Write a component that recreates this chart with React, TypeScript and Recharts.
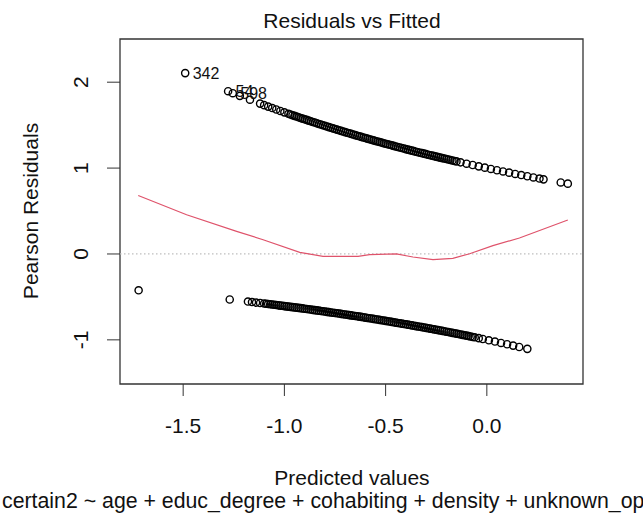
import {
  ReferenceArea,
  ReferenceLine,
  Scatter,
  ScatterChart,
  XAxis,
  YAxis,
} from "recharts";

const FONT = "'Liberation Sans', Arial, Helvetica, sans-serif";

const xTicks = [-1.5, -1, -0.5, 0];
const yTicks = [-1, 0, 1, 2];
const xDomain: [number, number] = [-1.812, 0.475];
const yDomain: [number, number] = [-1.514, 2.503];

// observations with the three largest residuals, labelled by row id
const idPoints = [
  { x: -1.49, y: 2.106, id: "342" },
  { x: -1.278, y: 1.895, id: "54" },
  { x: -1.255, y: 1.872, id: "598" },
];

// upper band (fitted, pearson residual)
const upperPts: [number, number][] = [
  [-1.22, 1.841], [-1.17, 1.796],
  [-1.12, 1.751], [-1.1, 1.733], [-1.08, 1.716], [-1.06, 1.699], [-1.04, 1.682],
  [-1.02, 1.665], [-1.0, 1.649], [-0.98, 1.632], [-0.96, 1.616], [-0.94, 1.6],
  [-0.92, 1.584], [-0.9, 1.568], [-0.88, 1.553], [-0.86, 1.537], [-0.84, 1.522],
  [-0.82, 1.507], [-0.8, 1.492], [-0.78, 1.477], [-0.76, 1.462], [-0.74, 1.448],
  [-0.72, 1.433], [-0.7, 1.419], [-0.68, 1.405], [-0.66, 1.391], [-0.64, 1.377],
  [-0.62, 1.363], [-0.6, 1.35], [-0.58, 1.336], [-0.56, 1.323], [-0.54, 1.31],
  [-0.52, 1.297], [-0.5, 1.284], [-0.48, 1.271], [-0.46, 1.259], [-0.44, 1.246],
  [-0.42, 1.234], [-0.4, 1.221], [-0.38, 1.209], [-0.36, 1.197], [-0.34, 1.185],
  [-0.32, 1.174], [-0.3, 1.162], [-0.28, 1.15], [-0.26, 1.139], [-0.24, 1.128],
  [-0.22, 1.116], [-0.2, 1.105], [-0.18, 1.094], [-0.16, 1.083],
  [-0.97, 1.624], [-0.95, 1.608], [-0.93, 1.592], [-0.91, 1.576], [-0.89, 1.561],
  [-0.87, 1.545],
  [-0.85, 1.53], [-0.83, 1.514], [-0.81, 1.499], [-0.79, 1.484], [-0.77, 1.47],
  [-0.75, 1.455], [-0.73, 1.44], [-0.71, 1.426], [-0.69, 1.412], [-0.67, 1.398],
  [-0.65, 1.384], [-0.63, 1.37], [-0.61, 1.356], [-0.59, 1.343], [-0.57, 1.33],
  [-0.55, 1.316], [-0.53, 1.303], [-0.51, 1.29], [-0.49, 1.278], [-0.47, 1.265],
  [-0.45, 1.252], [-0.43, 1.24], [-0.41, 1.228], [-0.39, 1.215], [-0.37, 1.203],
  [-0.35, 1.191], [-0.33, 1.179], [-0.31, 1.168], [-0.29, 1.156], [-0.27, 1.145],
  [-0.25, 1.133], [-0.23, 1.122], [-0.21, 1.111], [-0.19, 1.1], [-0.17, 1.089],
  [-0.15, 1.078],
  [-0.13, 1.067], [-0.1, 1.051], [-0.07, 1.036], [-0.04, 1.02], [-0.01, 1.005],
  [0.02, 0.99], [0.05, 0.975], [0.08, 0.961], [0.11, 0.947], [0.14, 0.932],
  [0.17, 0.919], [0.2, 0.905], [0.23, 0.891], [0.26, 0.878], [0.28, 0.869],
  [0.365, 0.833], [0.4, 0.819],
];

// lower band
const lowerPts: [number, number][] = [
  [-1.72, -0.423], [-1.27, -0.53],
  [-1.18, -0.554], [-1.16, -0.56], [-1.14, -0.566], [-1.12, -0.571], [-1.1, -0.577],
  [-1.08, -0.583], [-1.06, -0.589], [-1.04, -0.595], [-1.02, -0.601], [-1.0, -0.607],
  [-0.98, -0.613], [-0.96, -0.619], [-0.94, -0.625], [-0.92, -0.631], [-0.9, -0.638],
  [-0.88, -0.644], [-0.86, -0.651], [-0.84, -0.657], [-0.82, -0.664], [-0.8, -0.67],
  [-0.78, -0.677], [-0.76, -0.684], [-0.74, -0.691], [-0.72, -0.698], [-0.7, -0.705],
  [-0.68, -0.712], [-0.66, -0.719], [-0.64, -0.726], [-0.62, -0.733], [-0.6, -0.741],
  [-0.58, -0.748], [-0.56, -0.756], [-0.54, -0.763], [-0.52, -0.771], [-0.5, -0.779],
  [-0.48, -0.787], [-0.46, -0.795], [-0.44, -0.803], [-0.42, -0.811], [-0.4, -0.819],
  [-0.38, -0.827], [-0.36, -0.835], [-0.34, -0.844], [-0.32, -0.852], [-0.3, -0.861],
  [-0.28, -0.869], [-0.26, -0.878], [-0.24, -0.887], [-0.22, -0.896], [-0.2, -0.905],
  [-0.18, -0.914], [-0.16, -0.923], [-0.14, -0.932], [-0.12, -0.942], [-0.1, -0.951],
  [-0.08, -0.961], [-0.06, -0.97], [-0.04, -0.98],
  [-1.09, -0.58], [-1.07, -0.586], [-1.05, -0.592], [-1.03, -0.598], [-1.01, -0.603],
  [-0.99, -0.61], [-0.97, -0.616], [-0.95, -0.622], [-0.93, -0.628], [-0.91, -0.634],
  [-0.89, -0.641], [-0.87, -0.647], [-0.85, -0.654], [-0.83, -0.66], [-0.81, -0.667],
  [-0.79, -0.674], [-0.77, -0.681], [-0.75, -0.687], [-0.73, -0.694], [-0.71, -0.701],
  [-0.69, -0.708], [-0.67, -0.715], [-0.65, -0.723], [-0.63, -0.73], [-0.61, -0.737],
  [-0.59, -0.745], [-0.57, -0.752], [-0.55, -0.76], [-0.53, -0.767], [-0.51, -0.775],
  [-0.49, -0.783], [-0.47, -0.791], [-0.45, -0.799], [-0.43, -0.807], [-0.41, -0.815],
  [-0.39, -0.823], [-0.37, -0.831], [-0.35, -0.84], [-0.33, -0.848], [-0.31, -0.856],
  [-0.29, -0.865], [-0.27, -0.874], [-0.25, -0.883], [-0.23, -0.891], [-0.21, -0.9],
  [-0.19, -0.909], [-0.17, -0.919], [-0.15, -0.928], [-0.13, -0.937], [-0.11, -0.946],
  [-0.09, -0.956], [-0.07, -0.966],
  [-0.02, -0.99], [0.01, -1.005], [0.04, -1.02], [0.07, -1.036], [0.1, -1.051],
  [0.13, -1.067], [0.16, -1.083], [0.2, -1.105],
];

// lowess smooth (red)
const smoothX = [-1.722, -1.483, -1.236, -1.105, -0.924, -0.809, -0.636, -0.579, -0.447, -0.365, -0.266, -0.168, -0.085, 0.03, 0.161, 0.4];
const smoothY = [0.681, 0.457, 0.263, 0.166, 0.019, -0.028, -0.028, -0.008, 0.0, -0.035, -0.066, -0.051, 0.003, 0.097, 0.186, 0.395];

const upperData = upperPts.map(([x, y]) => ({ x, y }));
const lowerData = lowerPts.map(([x, y]) => ({ x, y }));
const smoothData = smoothX.map((x, i) => ({ x, y: smoothY[i] }));

const Ring = (p: any) => (
  <circle cx={p.cx} cy={p.cy} r={3.6} fill="none" stroke="#000" strokeWidth={1.4} />
);

const IdRing = (p: any) => (
  <g>
    <circle cx={p.cx} cy={p.cy} r={3.6} fill="none" stroke="#000" strokeWidth={1.4} />
    <text x={p.cx + 7.5} y={p.cy} dy="0.36em" fontSize={16} fontFamily={FONT} fill="#111">
      {p.payload?.id}
    </text>
  </g>
);

function YTick({ x, y, payload }: any) {
  return (
    <text
      x={x}
      y={y}
      transform={`rotate(-90 ${x} ${y})`}
      textAnchor="middle"
      fontSize={21}
      fontFamily={FONT}
      fill="#111"
    >
      {payload.value}
    </text>
  );
}

export default function App() {
  return (
    <div style={{ position: "fixed", left: 0, top: 0, width: 643, height: 518, background: "#fff" }}>
      <ScatterChart width={643} height={518} margin={{ top: 39, right: 60, bottom: 84, left: 0 }}>
        <XAxis
          type="number"
          dataKey="x"
          domain={xDomain}
          allowDataOverflow
          ticks={xTicks}
          interval={0}
          tickFormatter={(v: number) => v.toFixed(1)}
          height={50}
          tickSize={12}
          tickMargin={22}
          axisLine={false}
          stroke="#333"
          tick={{ fontSize: 21, fill: "#111", fontFamily: FONT }}
        />
        <YAxis
          type="number"
          dataKey="y"
          domain={yDomain}
          allowDataOverflow
          ticks={yTicks}
          interval={0}
          width={120}
          tickSize={13}
          tickMargin={19}
          axisLine={false}
          stroke="#333"
          tick={<YTick />}
        />
        <ReferenceLine y={0} stroke="#BEBEBE" strokeWidth={1.2} strokeDasharray="1.5 2.5" />
        <Scatter data={upperData} shape={Ring} isAnimationActive={false} />
        <Scatter data={lowerData} shape={Ring} isAnimationActive={false} />
        <Scatter
          data={smoothData}
          line={{ stroke: "#DF536B", strokeWidth: 1.2 }}
          shape={() => <g />}
          isAnimationActive={false}
        />
        <Scatter data={idPoints} shape={IdRing} isAnimationActive={false} />
        <ReferenceArea
          x1={xDomain[0]}
          x2={xDomain[1]}
          y1={yDomain[0]}
          y2={yDomain[1]}
          fill="none"
          fillOpacity={0}
          stroke="#333"
          strokeWidth={1.3}
        />
      </ScatterChart>
      <svg
        width={643}
        height={518}
        style={{ position: "absolute", left: 0, top: 0, pointerEvents: "none" }}
      >
        <g fontFamily={FONT} fontSize={21} fill="#111">
          <text x={352} y={28} textAnchor="middle">Residuals vs Fitted</text>
          <text x={352} y={485} textAnchor="middle">Predicted values</text>
          <text x={38} y={211} textAnchor="middle" transform="rotate(-90 38 211)">
            Pearson Residuals
          </text>
          <text x={2} y={508} fontSize={21.3}>
            certain2 ~ age + educ_degree + cohabiting + density + unknown_op
          </text>
        </g>
      </svg>
    </div>
  );
}
